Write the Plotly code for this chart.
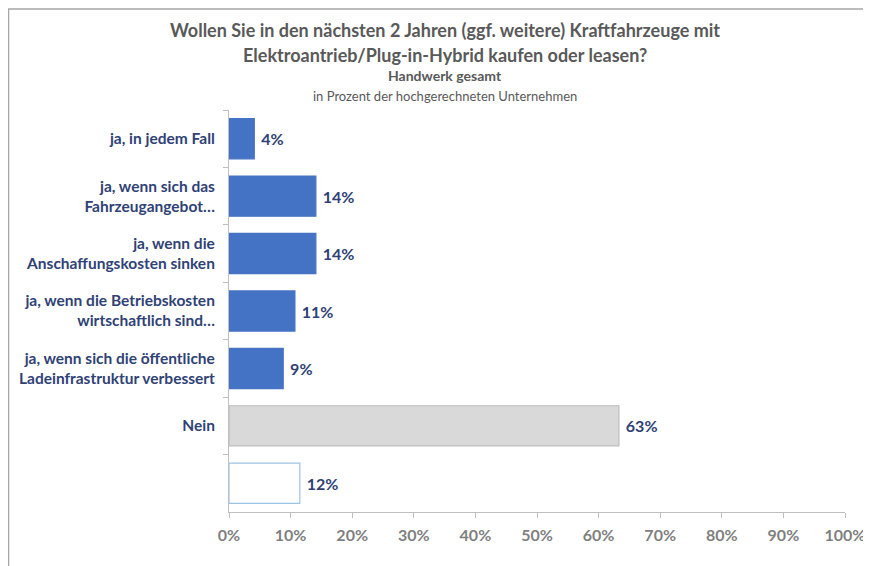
import plotly.graph_objects as go

categories = [
    'ja, in jedem Fall',
    'ja, wenn sich das<br>Fahrzeugangebot…',
    'ja, wenn die<br>Anschaffungskosten sinken',
    'ja, wenn die Betriebskosten<br>wirtschaftlich sind…',
    'ja, wenn sich die öffentliche<br>Ladeinfrastruktur verbessert',
    'Nein',
    ' ',
]
values = [4.1, 14.1, 14.1, 10.7, 8.8, 63.3, 11.5]
value_labels = ['4%', '14%', '14%', '11%', '9%', '63%', '12%']

fill_colors = ['#4472C4'] * 5 + ['#D9D9D9', '#FFFFFF']
line_colors = ['#4472C4'] * 5 + ['#BFBFBF', '#9DC3E6']

x_ticks = list(range(0, 101, 10))

navy = '#2F4276'
grey = '#7F7F7F'
font = 'Lato'

# the page body adds 8px, so everything below is placed 8px up/left
L, T, R, B = 221, 102, 837, 504
PW, PH = R - L, B - T

fig = go.Figure(go.Bar(
    x=values, y=categories, orientation='h',
    marker=dict(color=fill_colors, line=dict(color=line_colors, width=1.2)),
    text=['\u00a0' + t for t in value_labels], textposition='outside', cliponaxis=False,
    textfont=dict(family=font, size=16, color=navy, weight='bold'),
    width=0.7,
))

fig.update_yaxes(
    autorange='reversed', showline=True, linecolor='#BFBFBF', linewidth=1,
    ticks='outside', ticklen=5, tickcolor='#BFBFBF', tickson='boundaries',
    tickfont=dict(family=font, size=15.5, color=navy, weight='bold'),
    ticklabelstandoff=10,
)
fig.update_xaxes(
    range=[0, 100], tickvals=x_ticks, ticktext=[f'{t}%' for t in x_ticks],
    showline=True, linecolor='#BFBFBF', linewidth=1, showgrid=False,
    ticks='outside', ticklen=5, tickcolor='#BFBFBF', zeroline=False,
    tickfont=dict(family=font, size=16, color=grey, weight='bold'),
    ticklabelstandoff=4,
)

titles = [
    ('Wollen Sie in den nächsten 2 Jahren (ggf. weitere) Kraftfahrzeuge mit', 22, 18, 'bold'),
    ('Elektroantrieb/Plug-in-Hybrid kaufen oder leasen?', 47, 18, 'bold'),
    ('Handwerk gesamt', 67, 14, 'bold'),
    ('in Prozent der hochgerechneten Unternehmen', 88, 13, 'normal'),
]
for txt, ypix, size, weight in titles:
    fig.add_annotation(
        text=txt, xref='paper', yref='paper', x=(437 - L) / PW,
        y=1 + (T - ypix) / PH, showarrow=False, xanchor='center', yanchor='middle',
        font=dict(family=font, size=size, color='#595959', weight=weight),
    )

# chart frame
fig.add_shape(type='line', xref='paper', yref='paper',
              x0=(0 - L) / PW, x1=(871 - L) / PW,
              y0=1 + (T - 1) / PH, y1=1 + (T - 1) / PH,
              line=dict(color='#A6A6A6', width=1.5))
fig.add_shape(type='line', xref='paper', yref='paper',
              x0=(0.5 - L) / PW, x1=(0.5 - L) / PW,
              y0=1 + (T - 1) / PH, y1=-(566 - B) / PH,
              line=dict(color='#A6A6A6', width=1.5))

fig.update_layout(
    width=871, height=566,
    margin=dict(l=L, r=871 - R, t=T, b=566 - B),
    plot_bgcolor='white', paper_bgcolor='white',
    showlegend=False, bargap=0.3,
)

fig.write_html('out.html')
